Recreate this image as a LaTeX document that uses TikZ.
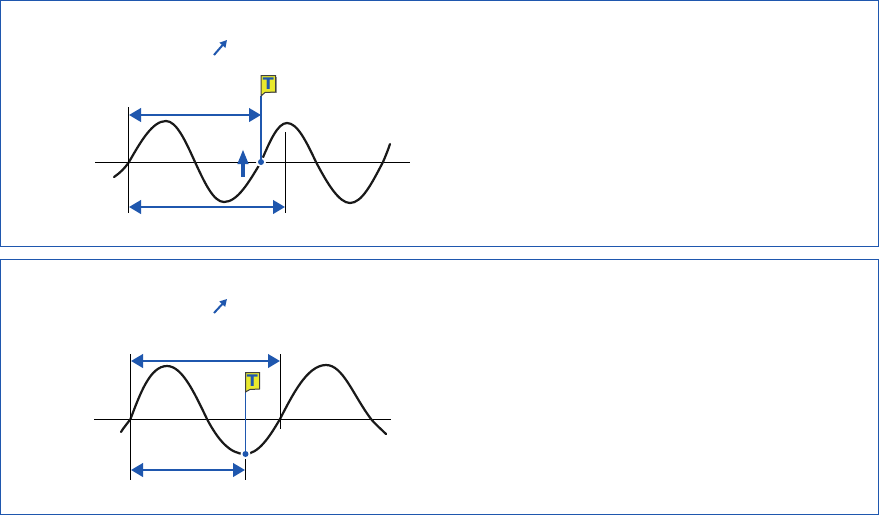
\documentclass[tikz,border=0pt]{standalone}
\usepackage{fontspec}
\setmainfont{DejaVu Sans}
\usetikzlibrary{arrows.meta}
\definecolor{bl}{HTML}{1F57AE}
\definecolor{fl}{HTML}{E9E92E}
\tikzset{
 panel/.style={draw=bl,line width=1pt,outer sep=0pt,inner sep=0pt,anchor=north west},
 wave/.style={draw=black!90,line width=2.2pt,line cap=round},
 thin axis/.style={draw=black,line width=1pt},
 tick/.style={draw=black,line width=1pt},
 span/.style={draw=bl,line width=2.4pt,{Triangle[length=12pt,width=13.5pt]}-{Triangle[length=12pt,width=13.5pt]}},
 up/.style={draw=bl,line width=4pt,-{Triangle[length=15pt,width=10pt]}},
 small/.style={draw=bl,line width=2pt,-{Triangle[length=7pt,width=7.5pt]}},
 halo/.style={circle,fill=white,inner sep=0pt,minimum size=10pt},
 dot/.style={circle,fill=bl,inner sep=0pt,minimum size=6pt},
 flagbox/.style={draw=black!75,line width=1pt,fill=fl},
 flagT/.style={text=bl,font=\bfseries\fontsize{16}{16}\selectfont,inner sep=0pt},
}
\begin{document}
\begin{tikzpicture}[x=1pt,y=-1pt]
\useasboundingbox (0,0) rectangle (879,515);
\fill[white] (0,0) rectangle (879,515);
\node[panel,draw,minimum width=877.5pt,minimum height=245.5pt] (panelA) at (0.5,0.5) {};
\node[panel,draw,minimum width=877.5pt,minimum height=255pt] (panelB) at (0.5,259.5) {};
% top panel
\coordinate (a1) at (95,162); \coordinate (a2) at (410,162);
\draw[thin axis] (a1) -- (a2);
\draw[wave] (114,177) .. controls (120,173) and (125,168) .. (129,162)
 .. controls (141,141) and (152.6,121) .. (166,121)
 .. controls (176.5,121) and (185.5,141) .. (195,162)
 .. controls (204.5,182.5) and (213.5,202) .. (224,202)
 .. controls (237.5,202) and (249,182) .. (261,162)
 .. controls (269.5,142) and (277.5,123) .. (287,123)
 .. controls (297.5,123) and (306.5,142) .. (316,162)
 .. controls (327,183) and (339,203) .. (350,203)
 .. controls (362,203) and (372,183) .. (383,162)
 .. controls (386,155) and (388,150) .. (390,144);
\coordinate (t1) at (128.5,107); \coordinate (t2) at (128.5,213);
\coordinate (t3) at (285.5,132); \coordinate (t4) at (285.5,213);
\draw[tick] (t1) -- (t2);
\draw[tick] (t3) -- (t4);
\coordinate (s1) at (129,115); \coordinate (s2) at (261,115);
\coordinate (s3) at (129,207); \coordinate (s4) at (285,207);
\draw[span] (s1) -- (s2);
\draw[span] (s3) -- (s4);
\node[halo] (h1) at (261,162) {};
\coordinate (f1) at (261,96);
\node[dot] (d1) at (261,162) {};
\draw[draw=bl,line width=2pt] (f1) -- (d1.center);
\fill[black!40] (263,76.5) -- (277,76.5) -- (277,93) -- (263,93) -- cycle;
\draw[flagbox] (261,75.5) -- (275.5,75.5) -- (275.5,92) -- (265,92.5) -- (261,96) -- cycle;
\node[flagT] (T1) at (268.3,84) {T};
\coordinate (u1) at (243,176.5); \coordinate (u2) at (243,149);
\draw[up] (u1) -- (u2);
\coordinate (m1) at (214,55); \coordinate (m2) at (227,40);
\draw[small] (m1) -- (m2);
% bottom panel
\coordinate (b1) at (94,419); \coordinate (b2) at (391,419);
\draw[thin axis] (b1) -- (b2);
\draw[wave] (121,432) .. controls (124,427) and (127,424) .. (130.5,419)
 .. controls (140,394) and (150,366) .. (167,366)
 .. controls (182,366) and (194,392) .. (207,419)
 .. controls (218,440) and (230,454) .. (245,454)
 .. controls (258,454) and (269,438) .. (280,419)
 .. controls (292,396) and (307,365) .. (326,365)
 .. controls (343,365) and (353,395) .. (371,419)
 .. controls (376,425) and (381,429) .. (386,434);
\coordinate (v1) at (130.5,354); \coordinate (v2) at (130.5,480);
\coordinate (v3) at (280.5,354); \coordinate (v4) at (280.5,429);
\coordinate (v5) at (245.5,459); \coordinate (v6) at (245.5,480);
\draw[tick] (v1) -- (v2);
\draw[tick] (v3) -- (v4);
\draw[tick] (v5) -- (v6);
\coordinate (r1) at (131,361); \coordinate (r2) at (280,361);
\coordinate (r3) at (131,470); \coordinate (r4) at (245,470);
\draw[span] (r1) -- (r2);
\draw[span] (r3) -- (r4);
\node[halo] (h2) at (245.5,454) {};
\coordinate (f2) at (245.5,392);
\node[dot] (d2) at (245.5,454) {};
\draw[draw=bl,line width=1pt] (f2) -- (d2.center);
\draw[flagbox] (245.5,372.5) -- (259.5,372.5) -- (259.5,389) -- (250,389.5) -- (245.5,392) -- cycle;
\node[flagT] (T2) at (252.3,380.5) {T};
\coordinate (n1) at (214,313); \coordinate (n2) at (227,299);
\draw[small] (n1) -- (n2);
\end{tikzpicture}
\end{document}
